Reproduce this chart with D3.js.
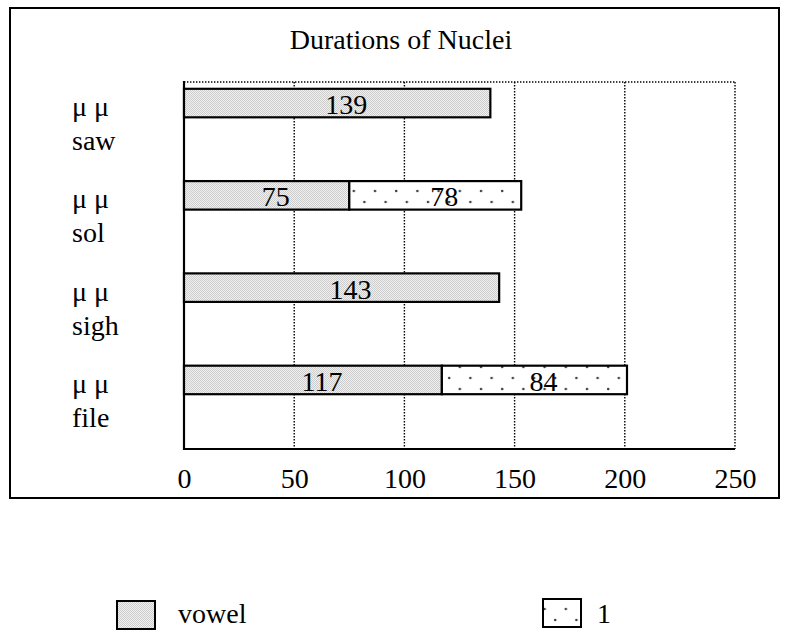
<!DOCTYPE html>
<html>
<head>
<meta charset="utf-8">
<script src="https://cdn.jsdelivr.net/npm/d3@7"></script>
<style>
  html, body { margin: 0; padding: 0; background: #fff; }
  svg { display: block; }
  text { font-family: "Liberation Serif", "Times New Roman", serif; fill: #000; }
</style>
</head>
<body>
<div id="chart"></div>
<script>
// ---- data ----
const title = "Durations of Nuclei";
const categories = ["saw", "sol", "sigh", "file"];
const categoryPrefix = ["μ μ", "μ μ", "μ μ", "μ μ"];
const seriesNames = ["vowel", "1"];
const vowelValues = [139, 75, 143, 117];
const lValues = [0, 78, 0, 84];
const xTicks = [0, 50, 100, 150, 200, 250];

// ---- layout ----
const W = 791, H = 633;
const svg = d3.select("#chart").append("svg").attr("width", W).attr("height", H);
const defs = svg.append("defs");

// checker pattern (vowel)
const chk = defs.append("pattern").attr("id", "checker")
  .attr("patternUnits", "userSpaceOnUse").attr("width", 2).attr("height", 2);
chk.append("rect").attr("width", 2).attr("height", 2).attr("fill", "#f0f0f0");
chk.append("rect").attr("width", 1).attr("height", 1).attr("fill", "#cdcdcd");
chk.append("rect").attr("x", 1).attr("y", 1).attr("width", 1).attr("height", 1).attr("fill", "#cdcdcd");

// sparse dots pattern ("1")
const dots = defs.append("pattern").attr("id", "dots")
  .attr("patternUnits", "userSpaceOnUse").attr("width", 21.2).attr("height", 22);
dots.append("rect").attr("width", 21.2).attr("height", 22).attr("fill", "#fff");
dots.append("circle").attr("cx", 4).attr("cy", 4).attr("r", 1.3).attr("fill", "#444");
dots.append("circle").attr("cx", 14.6).attr("cy", 15).attr("r", 1.3).attr("fill", "#444");

// outer frame
svg.append("rect").attr("x", 10).attr("y", 8).attr("width", 769).attr("height", 490)
  .attr("fill", "none").attr("stroke", "#000").attr("stroke-width", 2);

const x = d3.scaleLinear().domain([0, 250]).range([184, 735]);
const y = d3.scaleBand().domain(categories).range([88.8, 394.2])
  .paddingInner(0.691).paddingOuter(0).align(0);
const plotTop = 82, plotBottom = 449;

// title
svg.append("text").attr("x", 401).attr("y", 49).attr("text-anchor", "middle")
  .attr("font-size", 28).text(title);

// gridlines (dotted)
svg.append("g").selectAll("line").data(xTicks.filter(d => d > 0)).join("line")
  .attr("x1", d => x(d)).attr("x2", d => x(d))
  .attr("y1", plotTop).attr("y2", plotBottom)
  .attr("stroke", "#000").attr("stroke-width", 1.4).attr("stroke-dasharray", "1.4,1.6");
// top dotted border
svg.append("line").attr("x1", x(0)).attr("x2", x(250)).attr("y1", plotTop).attr("y2", plotTop)
  .attr("stroke", "#000").attr("stroke-width", 1.4).attr("stroke-dasharray", "1.4,1.6");

// x axis
const xAxis = svg.append("g").attr("transform", `translate(0,${plotBottom})`)
  .call(d3.axisBottom(x).tickValues(xTicks).tickSize(0).tickPadding(0));
xAxis.select(".domain").attr("stroke", "#000").attr("stroke-width", 2.2).attr("d", `M${x(0)},0H${x(250)}`);
xAxis.selectAll(".tick text").attr("font-family", "Liberation Serif").attr("font-size", 28)
  .attr("dy", null).attr("y", 39);

// y axis line
svg.append("line").attr("x1", x(0)).attr("x2", x(0)).attr("y1", plotTop - 1).attr("y2", plotBottom + 1)
  .attr("stroke", "#000").attr("stroke-width", 2.2);

// category labels
const catG = svg.append("g").selectAll("text").data(categories).join("text")
  .attr("x", 72).attr("font-size", 28);
catG.append("tspan").attr("x", 72).attr("y", d => y(d) + y.bandwidth() / 2 + 13)
  .text((d, i) => categoryPrefix[i]);
catG.append("tspan").attr("x", 72).attr("y", d => y(d) + y.bandwidth() / 2 + 47)
  .text(d => d);

// bars
const segs = [];
categories.forEach((c, i) => {
  segs.push({ cat: c, s: 0, x0: 0, x1: vowelValues[i], v: vowelValues[i] });
  if (lValues[i] > 0) segs.push({ cat: c, s: 1, x0: vowelValues[i], x1: vowelValues[i] + lValues[i], v: lValues[i] });
});
const fills = ["url(#checker)", "url(#dots)"];
svg.append("g").selectAll("rect").data(segs).join("rect")
  .attr("x", d => x(d.x0)).attr("width", d => x(d.x1) - x(d.x0))
  .attr("y", d => y(d.cat)).attr("height", y.bandwidth())
  .attr("fill", d => fills[d.s]).attr("stroke", "#000").attr("stroke-width", 2.2);

// value labels
svg.append("g").selectAll("text").data(segs).join("text")
  .attr("x", d => (x(d.x0) + x(d.x1)) / 2 + 9)
  .attr("y", d => y(d.cat) + y.bandwidth() / 2 + 11)
  .attr("text-anchor", "middle").attr("font-size", 28).text(d => d.v);

// legend
const legend = [
  { name: seriesNames[0], fill: fills[0], bx: 117, by: 601, tx: 178 },
  { name: seriesNames[1], fill: fills[1], bx: 543, by: 599, tx: 597 }
];
const lg = svg.append("g").selectAll("g").data(legend).join("g");
lg.append("rect").attr("x", d => d.bx).attr("y", d => d.by).attr("width", 38).attr("height", 28)
  .attr("fill", d => d.fill).attr("stroke", "#000").attr("stroke-width", 2);
lg.append("text").attr("x", d => d.tx).attr("y", 623).attr("font-size", 28).text(d => d.name);
</script>
</body>
</html>
